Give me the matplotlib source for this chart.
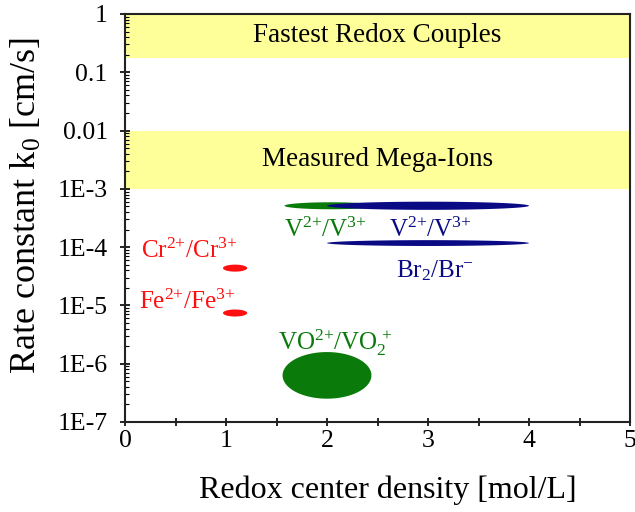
import numpy as np
import matplotlib
matplotlib.use("Agg")
import matplotlib.pyplot as plt
from matplotlib.ticker import FixedLocator, FixedFormatter, LogLocator, MultipleLocator

plt.rcParams["font.family"] = ["Liberation Serif", "DejaVu Serif"]
plt.rcParams["mathtext.fontset"] = "custom"
plt.rcParams["mathtext.rm"] = "Liberation Serif"
plt.rcParams["mathtext.it"] = "Liberation Serif:italic"
plt.rcParams["mathtext.default"] = "regular"

# y ticks
y_ticks = [1, 0.1, 0.01, 1e-3, 1e-4, 1e-5, 1e-6, 1e-7]
y_tick_labels = ["1", "0.1", "0.01", "1E-3", "1E-4", "1E-5", "1E-6", "1E-7"]
x_ticks = [0, 1, 2, 3, 4, 5]

# shaded bands (k0 ranges)
band_names = ["Fastest Redox Couples", "Measured Mega-Ions"]
band_low = [0.176, 1e-3]
band_high = [1.0, 1e-2]

# redox couples: center density, log10 k0, half spread in density, half spread in decades
couple_x = [1.09, 1.09, 2.04, 3.0, 3.0, 2.0]
couple_logk = [-4.36, -5.13, -3.29, -3.29, -3.93, -6.20]
couple_dx = [0.12, 0.12, 0.46, 1.0, 1.0, 0.44]
couple_dlogk = [0.06, 0.06, 0.06, 0.07, 0.05, 0.40]
couple_colors = ["#ff1010", "#ff1010", "#0a7a0a", "#0a0a85", "#0a0a85", "#0a7a0a"]

# labels
label_text = [r"Cr$^{2{+}}$/Cr$^{3{+}}$", r"Fe$^{2{+}}$/Fe$^{3{+}}$", r"V$^{2{+}}$/V$^{3{+}}$",
              r"V$^{2{+}}$/V$^{3{+}}$", r"Br$_2$/Br$^{-}$", r"VO$^{2{+}}$/VO$_2^{\ {+}}$"]
label_x = [0.64, 0.62, 1.98, 3.02, 3.07, 2.08]
label_y = [0.87e-4, 1.15e-5, 1.95e-4, 1.95e-4, 3.9e-5, 2.3e-6]
label_colors = ["#ff1010", "#ff1010", "#0a7a0a", "#0a0a85", "#0a0a85", "#0a7a0a"]

fig = plt.figure(figsize=(6.35, 5.12), dpi=100)
ax = fig.add_axes([125 / 635, (512 - 422) / 512, 505 / 635, 408 / 512])
ax.set_yscale("log")
ax.set_xlim(0, 5)
ax.set_ylim(1e-7, 1)

for name, lo, hi in zip(band_names, band_low, band_high):
    ax.axhspan(lo, hi, color="#ffff99", lw=0, zorder=0)
    ax.text(2.5, np.sqrt(lo * hi), name, ha="center", va="center", fontsize=19.5)

t = np.linspace(0, 2 * np.pi, 200)
for cx, cy, dx, dy, c in zip(couple_x, couple_logk, couple_dx, couple_dlogk, couple_colors):
    ax.fill(cx + dx * np.cos(t), 10 ** (cy + dy * np.sin(t)), color=c, lw=0, zorder=2)

for s, x, y, c in zip(label_text, label_x, label_y, label_colors):
    ax.text(x, y, s, color=c, ha="center", va="center", fontsize=18)

ax.yaxis.set_major_locator(FixedLocator(y_ticks))
ax.yaxis.set_major_formatter(FixedFormatter(y_tick_labels))
ax.yaxis.set_minor_locator(LogLocator(base=10, subs=np.arange(2, 10), numticks=20))
ax.xaxis.set_major_locator(FixedLocator(x_ticks))
ax.xaxis.set_minor_locator(MultipleLocator(0.5))

ax.tick_params(axis="y", which="major", direction="inout", length=7, width=1.2, labelsize=18.5, pad=9)
ax.tick_params(axis="y", which="minor", direction="in", length=3, width=0.8)
ax.tick_params(axis="x", which="both", direction="inout", length=6, width=1.2, labelsize=18.5, pad=3)
for sp in ax.spines.values():
    sp.set_linewidth(1.5)
    sp.set_color("#222222")

ax.set_xlabel("Redox center density [mol/L]", fontsize=23, labelpad=17)
ax.xaxis.label.set_x(0.52)
ax.set_ylabel(r"Rate constant k$_0$ [cm/s]", fontsize=26)
ax.yaxis.set_label_coords(-0.16, 0.53)

fig.savefig("out.png", dpi=100)
